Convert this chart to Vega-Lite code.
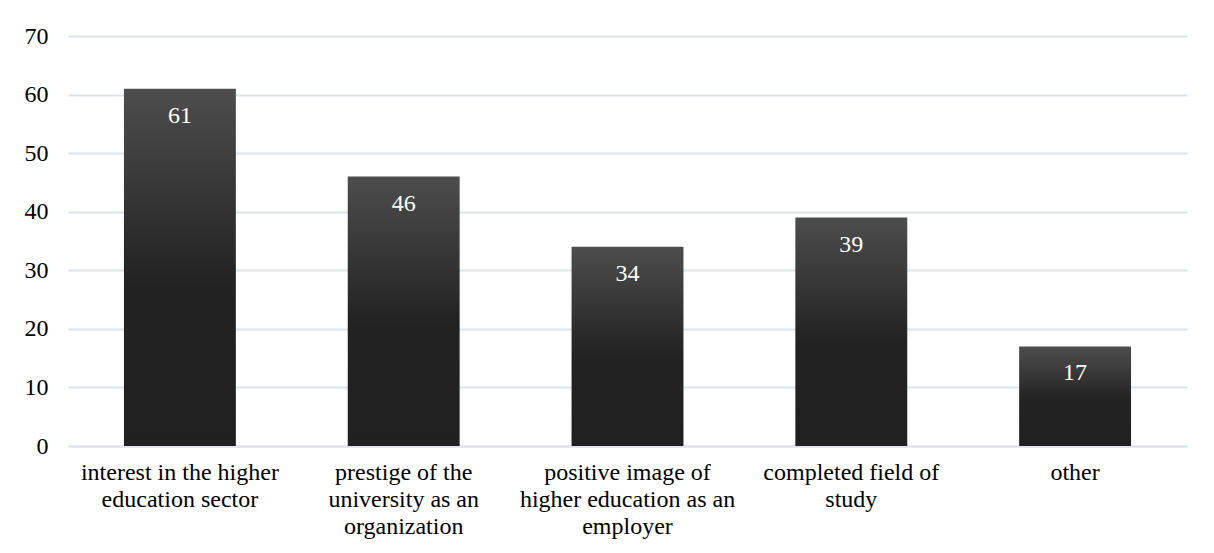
{
  "$schema": "https://vega.github.io/schema/vega-lite/v6.json",
  "width": 1119,
  "height": 410,
  "autosize": {"type": "none"},
  "padding": {"left": 68, "top": 36, "right": 27, "bottom": 107},
  "background": "white",
  "config": {
    "view": {"stroke": null},
    "font": "Liberation Serif"
  },
  "data": {
    "values": [
      {"reason": "interest in the higher|education sector", "count": 61},
      {"reason": "prestige of the|university as an|organization", "count": 46},
      {"reason": "positive image of|higher education as an|employer", "count": 34},
      {"reason": "completed field of|study", "count": 39},
      {"reason": "other", "count": 17}
    ]
  },
  "encoding": {
    "x": {
      "field": "reason",
      "type": "nominal",
      "sort": null,
      "scale": {"paddingInner": 0.5, "paddingOuter": 0.25},
      "axis": {
        "title": null,
        "labelAngle": 0,
        "labelExpr": "split(datum.label, '|')",
        "labelFont": "Liberation Serif",
        "labelFontSize": 24,
        "labelColor": "#000000",
        "labelLineHeight": 27,
        "labelPadding": 14,
        "labelLimit": 0,
        "ticks": false,
        "domain": true,
        "domainColor": "#d9e4f2",
        "domainWidth": 2
      }
    },
    "y": {
      "field": "count",
      "type": "quantitative",
      "scale": {"domain": [0, 70], "nice": false},
      "axis": {
        "title": null,
        "values": [0, 10, 20, 30, 40, 50, 60, 70],
        "labelFont": "Liberation Serif",
        "labelFontSize": 24,
        "labelColor": "#000000",
        "labelPadding": 20,
        "ticks": false,
        "domain": false,
        "grid": true,
        "gridColor": "#d9e4f2",
        "gridWidth": 2
      }
    }
  },
  "layer": [
    {
      "mark": {
        "type": "bar",
        "color": {
          "gradient": "linear",
          "x1": 0, "y1": 0, "x2": 0, "y2": 1,
          "stops": [
            {"offset": 0, "color": "#4d4d4d"},
            {"offset": 0.55, "color": "#222222"},
            {"offset": 1, "color": "#202020"}
          ]
        }
      }
    },
    {
      "mark": {
        "type": "text",
        "baseline": "middle",
        "dy": 27,
        "font": "Liberation Serif",
        "fontSize": 24,
        "color": "#ffffff"
      },
      "encoding": {"text": {"field": "count", "type": "quantitative"}}
    }
  ]
}
